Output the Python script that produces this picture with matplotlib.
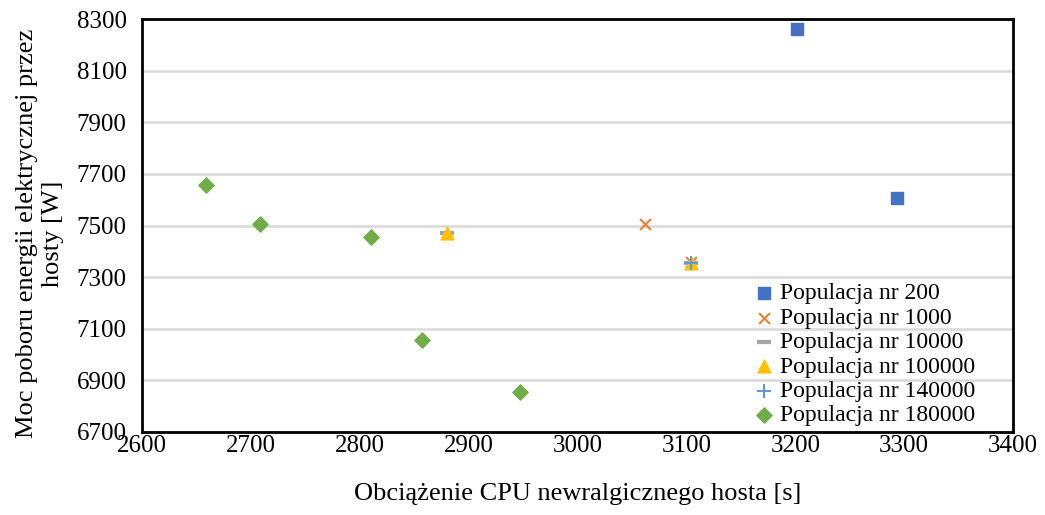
import matplotlib
matplotlib.use('Agg')
import matplotlib.pyplot as plt

plt.rcParams['font.family'] = ['Liberation Serif', 'DejaVu Serif']

# data
pop200_x = [3202, 3293]
pop200_y = [8261, 7606]
pop1000_x = [3062, 3104]
pop1000_y = [7505, 7358]
pop10000_x = [2880, 3104]
pop10000_y = [7472, 7356]
pop100000_x = [2880, 3104]
pop100000_y = [7470, 7353]
pop140000_x = [3104]
pop140000_y = [7356]
pop180000_x = [2659, 2708, 2810, 2857, 2947]
pop180000_y = [7657, 7505, 7455, 7056, 6854]

fig = plt.figure(figsize=(10.45, 5.15), dpi=100)
ax = fig.add_axes([142 / 1045, 1 - 432 / 515, (1013 - 142) / 1045, (432 - 19) / 515])

ax.scatter(pop200_x, pop200_y, marker='s', s=75, color='#4472c4', label='Populacja nr 200', zorder=3)
ax.scatter(pop1000_x, pop1000_y, marker='x', s=60, color='#ed7d31', linewidths=1.5, label='Populacja nr 1000', zorder=3)
ax.scatter(pop10000_x, pop10000_y, marker='_', s=100, color='#a5a5a5', linewidths=3, label='Populacja nr 10000', zorder=3)
ax.scatter(pop100000_x, pop100000_y, marker='^', s=85, color='#ffc000', label='Populacja nr 100000', zorder=3)
ax.scatter(pop140000_x, pop140000_y, marker='+', s=90, color='#5b9bd5', linewidths=1.5, label='Populacja nr 140000', zorder=4)
ax.scatter(pop180000_x, pop180000_y, marker='D', s=60, color='#70ad47', label='Populacja nr 180000', zorder=3)

ax.set_xlim(2600, 3400)
ax.set_ylim(6700, 8300)
ax.set_xticks(range(2600, 3401, 100))
ax.set_yticks(range(6700, 8301, 200))
ax.tick_params(length=0, labelsize=18)
ax.tick_params(axis='y', pad=11)
ax.tick_params(axis='x', pad=2)
ax.grid(axis='y', color='#d9d9d9', linewidth=1.8)
ax.set_axisbelow(True)
for sp in ax.spines.values():
    sp.set_linewidth(2)
    sp.set_color('black')

ax.set_xlabel('Obciążenie CPU newralgicznego hosta [s]', fontsize=19, labelpad=19)
ax.set_ylabel('Moc poboru energii elektrycznej przez\nhosty [W]', fontsize=19, labelpad=8,
              linespacing=1.2)
ax.yaxis.set_label_coords(-0.09, 0.48)

leg = ax.legend(loc='upper left', bbox_to_anchor=(0.7035, 0.361), frameon=False, fontsize=17,
                handlelength=0.8, handletextpad=0.25, labelspacing=0.12, borderaxespad=0,
                borderpad=0)

fig.savefig('out.png', dpi=100)
